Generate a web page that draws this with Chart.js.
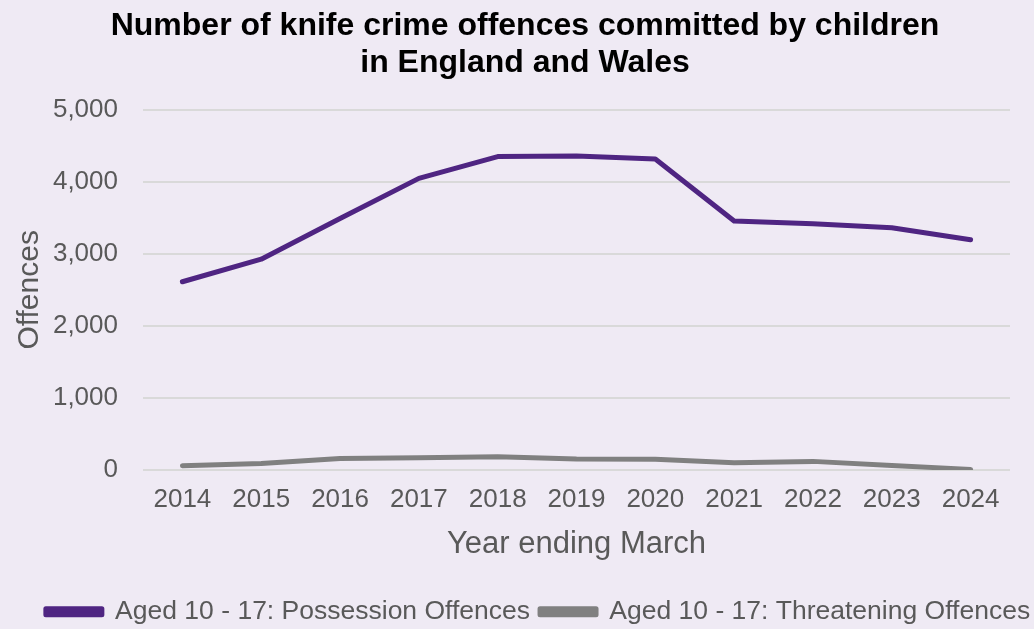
<!DOCTYPE html>
<html>
<head>
<meta charset="utf-8">
<script src="https://cdn.jsdelivr.net/npm/chart.js@4/dist/chart.umd.min.js"></script>
<style>
  html, body { margin: 0; padding: 0; background: #efeaf4; }
  #wrap { width: 1034px; height: 629px; position: relative; }
</style>
</head>
<body>
<div id="wrap"><canvas id="knifeChart"></canvas></div>
<script>
// year ending March
const years = ['2014', '2015', '2016', '2017', '2018', '2019', '2020', '2021', '2022', '2023', '2024'];
const possession = [2612, 2925, 3490, 4046, 4348, 4357, 4316, 3454, 3417, 3361, 3194];
const threatening = [60, 93, 160, 172, 186, 154, 149, 102, 121, 65, 10];
const seriesNames = ['Aged 10 - 17: Possession Offences', 'Aged 10 - 17: Threatening Offences'];
const yTicks = [0, 1000, 2000, 3000, 4000, 5000];

const purple = '#4f2582';
const grey = '#808080';
const textGrey = '#595959';
const fontFam = 'Arial, "Liberation Sans", sans-serif';

// legend and title sit a bit right of centre in the original
const nudgeBoxes = {
  id: 'nudgeBoxes',
  afterLayout(chart) {
    const lg = chart.legend;
    if (lg) {
      lg.left += 33;
      lg.right += 33;
    }
    const tb = chart.titleBlock;
    if (tb) {
      tb.left += 20;
      tb.right += 20;
    }
  }
};

const ctx = document.getElementById('knifeChart');

new Chart(ctx, {
  type: 'line',
  data: {
    labels: years,
    datasets: [
      {
        label: seriesNames[0],
        data: possession,
        borderColor: purple,
        backgroundColor: purple,
        borderWidth: 5,
        pointRadius: 0,
        borderCapStyle: 'round',
        borderJoinStyle: 'round',
        tension: 0
      },
      {
        label: seriesNames[1],
        data: threatening,
        borderColor: grey,
        backgroundColor: grey,
        borderWidth: 5,
        pointRadius: 0,
        borderCapStyle: 'round',
        borderJoinStyle: 'round',
        tension: 0
      }
    ]
  },
  options: {
    responsive: true,
    maintainAspectRatio: false,
    animation: false,
    layout: { padding: { left: 0, right: 24, top: 4, bottom: -6 } },
    plugins: {
      tooltip: { enabled: false },
      title: {
        display: true,
        text: ['Number of knife crime offences committed by children', 'in England and Wales'],
        color: '#000000',
        font: { family: fontFam, size: 32, weight: 'bold', lineHeight: 1.15 },
        padding: { top: 4, bottom: 28 }
      },
      legend: {
        display: true,
        position: 'bottom',
        labels: {
          color: textGrey,
          font: { family: fontFam, size: 26.5 },
          boxWidth: 56,
          boxHeight: 6,
          padding: 10
        }
      }
    },
    scales: {
      x: {
        offset: true,
        grid: { display: false },
        border: { display: false },
        ticks: { color: textGrey, font: { family: fontFam, size: 26 }, padding: 6 },
        title: {
          display: true,
          text: 'Year ending March',
          color: textGrey,
          font: { family: fontFam, size: 31 },
          padding: { top: 5, bottom: 25 }
        }
      },
      y: {
        min: 0,
        max: 5000,
        afterBuildTicks: (axis) => { axis.ticks = yTicks.map(v => ({ value: v })); },
        afterFit: (axis) => { axis.width = 143; },
        grid: { color: '#d9d9d9', lineWidth: 2, drawTicks: false },
        border: { display: false },
        ticks: {
          color: textGrey,
          font: { family: fontFam, size: 26 },
          padding: 25,
          callback: (v) => v.toLocaleString('en-GB')
        },
        title: {
          display: true,
          text: 'Offences',
          color: textGrey,
          font: { family: fontFam, size: 30 },
          padding: { top: 12, bottom: 0 }
        }
      }
    }
  },
  plugins: [nudgeBoxes]
});
</script>
</body>
</html>
